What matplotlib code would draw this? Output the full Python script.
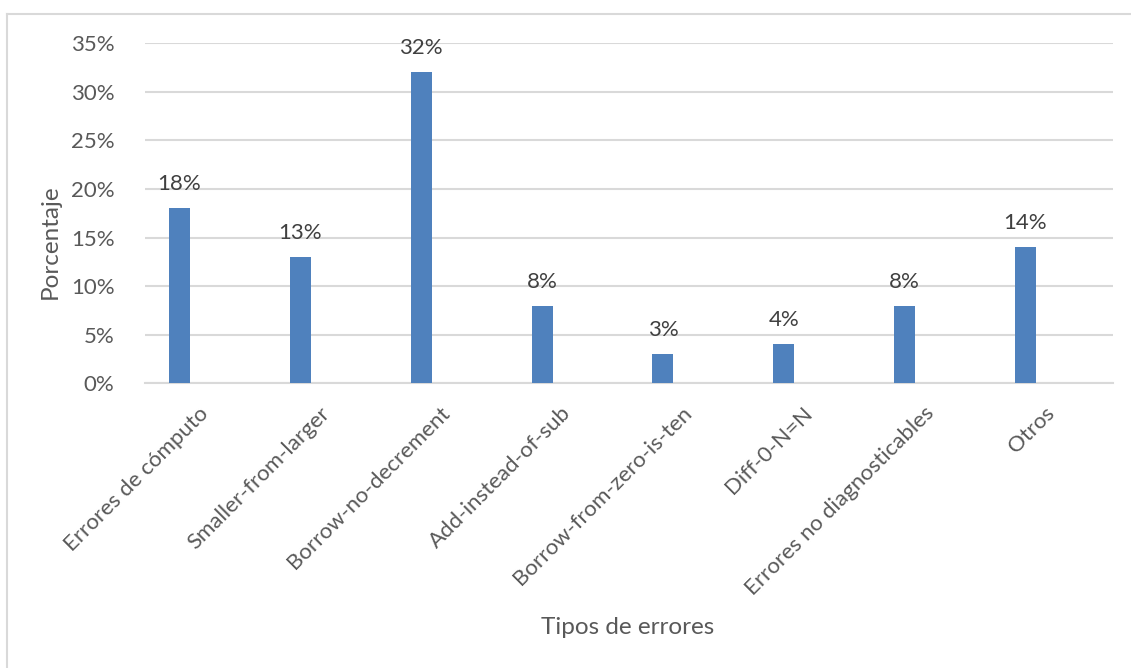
import numpy as np
import matplotlib.pyplot as plt
import matplotlib.transforms as mtransforms
from matplotlib.ticker import PercentFormatter

categories = ['Errores de cómputo', 'Smaller-from-larger', 'Borrow-no-decrement',
              'Add-instead-of-sub', 'Borrow-from-zero-is-ten', 'Diff-0-N=N',
              'Errores no diagnosticables', 'Otros']
values = [18, 13, 32, 8, 3, 4, 8, 14]
y_ticks = [0, 5, 10, 15, 20, 25, 30, 35]

plt.rcParams['font.family'] = ['Lato', 'DejaVu Sans']
text_col = '#595959'
grid_col = '#D9D9D9'
bar_col = '#4F81BD'

fig = plt.figure(figsize=(11.31, 6.68), dpi=100)
ax = fig.add_axes([145 / 1131, 1 - 383.3 / 668, 968 / 1131, 340 / 668])

x = np.arange(len(categories))
bars = ax.bar(x, values, width=0.174, color=bar_col, zorder=3)

# data labels above the bars
for xi, v in zip(x, values):
    ax.annotate(f'{v}%', (xi, v), xytext=(0, 18), textcoords='offset pixels',
                ha='center', va='baseline', fontsize=16, color='#404040')

ax.set_xlim(-0.285, 7.724)
ax.set_ylim(0, 35)
ax.set_yticks(y_ticks)
ax.yaxis.set_major_formatter(PercentFormatter(decimals=0))
ax.grid(axis='y', color=grid_col, linewidth=1.5, zorder=0)
for s in ['top', 'right', 'left']:
    ax.spines[s].set_visible(False)
ax.spines['bottom'].set_color(grid_col)
ax.spines['bottom'].set_linewidth(1.5)
ax.tick_params(axis='both', length=0, labelsize=16, colors=text_col)
ax.tick_params(axis='y', pad=22)

ax.set_xticks(x)
ax.set_xticklabels(categories, rotation=45, ha='right', va='center',
                   rotation_mode='anchor')
offset = mtransforms.ScaledTranslation(26 / 100, -22 / 100, fig.dpi_scale_trans)
for lbl in ax.get_xticklabels():
    lbl.set_transform(lbl.get_transform() + offset)

fig.text(628 / 1131, 1 - 628 / 668, 'Tipos de errores', ha='center', va='center',
         fontsize=17.5, color=text_col)
fig.text(50 / 1131, 1 - 242 / 668, 'Porcentaje', ha='center', va='center',
         rotation=90, fontsize=17.5, color=text_col)

# chart border (top and left edges visible)
fig.add_artist(plt.Line2D([7 / 1131, 1], [1 - 14 / 668, 1 - 14 / 668],
                          color=grid_col, linewidth=1.5))
fig.add_artist(plt.Line2D([7 / 1131, 7 / 1131], [0, 1 - 14 / 668],
                          color=grid_col, linewidth=1.5))

fig.savefig('out.png', dpi=100)
